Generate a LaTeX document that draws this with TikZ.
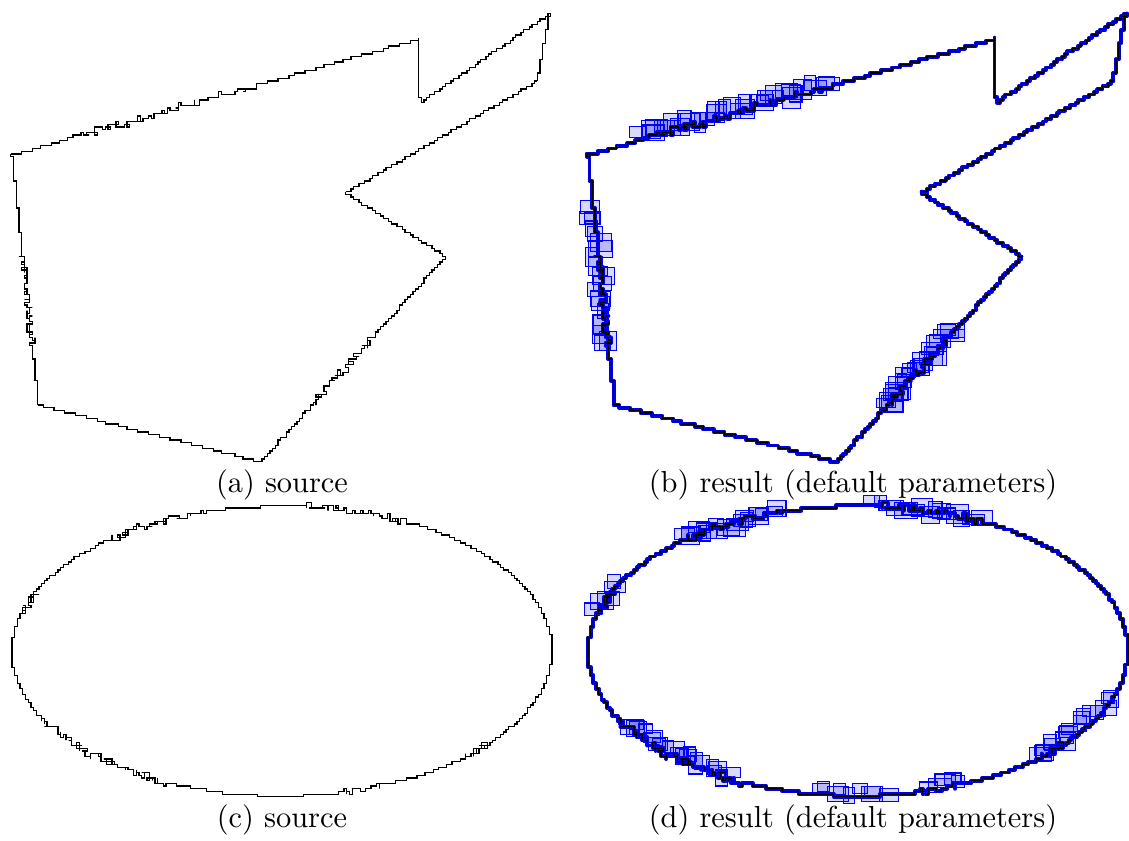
\documentclass[tikz,border=0pt]{standalone}
\usetikzlibrary{calc}

\tikzset{
  src/.style={black, line width=0.4pt},
  res/.style={blue!85!black, line width=1.3pt, line cap=round, line join=round},
  hitbox/.style={draw=blue, line width=0.35pt, fill=blue, fill opacity=0.15},
  lbl/.style={anchor=base, inner sep=0pt},
}

% polygon edges: x0/y0/x1/y1/noise from/noise to (image pixels)
\newcommand\polyedges{12/155/418/39/0.14/0.6, 418/39/420/103/0/0, 420/103/550/13/0/0,
  550/13/537/82/0/0, 537/82/346/193/0/0, 346/193/446/257/0/0,
  446/257/262/462/0.4/0.72, 262/462/39/405/0/0, 39/405/12/155/0.24/0.6}

% angle windows where the ellipse outline is noisy
\newcommand\ellnoise{((\x>115)*(\x<155)+(\x>195)*(\x<205)+(\x>230)*(\x<255)+(\x>275)*(\x<298)+(\x>40)*(\x<50)+(\x>67)*(\x<77))}

\newcommand\drawpoly[1]{%
  \pgfmathsetseed{11}%
  \foreach \ax/\ay/\bx/\by/\na/\nb in \polyedges
    \draw[#1] plot[const plot, domain=0:1, samples=160]
      ({2.7*round((\ax+(\bx-\ax)*\x)/2.7+(\x>\na)*(\x<\nb)*(rnd*2.4-1.2))},
       {2.7*round((\ay+(\by-\ay)*\x)/2.7+(\x>\na)*(\x<\nb)*(rnd*2.4-1.2))});
}

\newcommand\drawell[1]{%
  \pgfmathsetseed{5}%
  \draw[#1] plot[const plot, domain=0:360, samples=721]
    ({2.7*round((270*cos(\x))/2.7+\ellnoise*(rnd*2.4-1.2))},
     {2.7*round((145*sin(\x))/2.7+\ellnoise*(rnd*2.4-1.2))});
}

\begin{document}
\begin{tikzpicture}[x=0.01156cm, y=-0.01156cm]
\useasboundingbox (0,0) rectangle (1129,840);

% (a) source
\drawpoly{src}
\node[lbl] (capa) at (282,492) {(a) source};

% (b) result
\begin{scope}[shift={(576,0)}]
  \drawpoly{res}
\end{scope}
\pgfmathsetseed{3}
\foreach \ax/\ay/\bx/\by/\k in {645/139/830/86/34, 594/213/609/350/20, 952/335/886/410/26}
  \foreach \i in {0,...,\k}
    \draw[hitbox] ($(\ax,\ay)!\i/\k!(\bx,\by)$) ++({-7-rnd*9},{-7-rnd*9}) rectangle ++({11+rnd*14},{9+rnd*12});
\begin{scope}[shift={(576,0)}]
  \drawpoly{src}
\end{scope}
\node[lbl] (capb) at (853,492) {(b) result (default parameters)};

% (c) source
\begin{scope}[shift={(282,651)}]
  \drawell{src}
\end{scope}
\node[lbl] (capc) at (282,827) {(c) source};

% (d) result
\begin{scope}[shift={(858,651)}]
  \drawell{res}
\end{scope}
\pgfmathsetseed{8}
\foreach \ax/\ay/\bx/\by/\k in {684/540/779/512/18, 876/506/981/522/14, 598/611/615/587/4,
    629/728/731/779/22, 820/795/886/795/8, 932/790/959/785/4, 1039/759/1112/701/16}
  \foreach \i in {0,...,\k}
    \draw[hitbox] ($(\ax,\ay)!\i/\k!(\bx,\by)$) ++({-6-rnd*8},{-6-rnd*8}) rectangle ++({11+rnd*12},{9+rnd*10});
\begin{scope}[shift={(858,651)}]
  \drawell{src}
\end{scope}
\node[lbl] (capd) at (853,827) {(d) result (default parameters)};
\end{tikzpicture}
\end{document}
